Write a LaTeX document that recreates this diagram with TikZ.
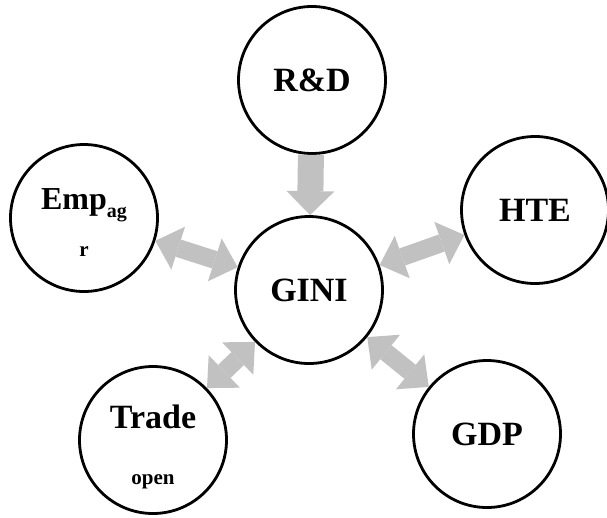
\documentclass[tikz,border=0pt]{standalone}
\usepackage{fontspec}
\setmainfont{Liberation Serif}
\usepackage{tikz}
\usetikzlibrary{arrows.meta}
\usetikzlibrary{positioning}

\definecolor{arrowgray}{RGB}{192,193,192}

\begin{document}
\begin{tikzpicture}[
        x=1pt, y=-1pt,
        % Style for the round variable nodes
        varcircle/.style={circle, draw, line width=2.8pt, minimum size=147pt, inner sep=0pt, align=center, font=\bfseries\fontsize{34}{38}\selectfont, fill=white},
        % Style for the one way block arrow
        onearrow/.style={draw=arrowgray, line width=26pt, -{Triangle[width=48pt, length=24pt, line width=0pt]}},
        % Style for the two way block arrows
        twoarrow/.style={draw=arrowgray, line width=18pt, {Triangle[width=45pt, length=24pt, line width=0pt]}-{Triangle[width=45pt, length=24pt, line width=0pt]}}
    ]
    \useasboundingbox (0,0) rectangle (607,517);

    % --- 1. NODES ---
    \node[varcircle] (Gini) at (309, 290) {GINI};
    \node[varcircle] (RD) at (312, 80) {R\&D};
    \node[varcircle, font=\bfseries\fontsize{32}{38}\selectfont] (Emp) at (84, 218) {\rule{0pt}{30pt}Emp\raisebox{-8pt}{\fontsize{20}{20}\selectfont ag}\\[9pt]{\fontsize{21}{21}\selectfont r}};
    \node[varcircle] (Hte) at (535, 210) {HTE};
    \node[varcircle] (Trade) at (153, 440) {\rule{0pt}{37pt}Trade\\[18pt]{\fontsize{21}{21}\selectfont open}};
    \node[varcircle] (Gdp) at (487, 434) {GDP};

    % --- 2. CONNECTIONS ---
    \draw[onearrow] (RD) -- (Gini);
    \draw[twoarrow] (Emp) -- (Gini);
    \draw[twoarrow] (Hte) -- (Gini);
    \draw[twoarrow] (Trade) -- (Gini);
    \draw[twoarrow] (Gdp) -- (Gini);

\end{tikzpicture}
\end{document}
